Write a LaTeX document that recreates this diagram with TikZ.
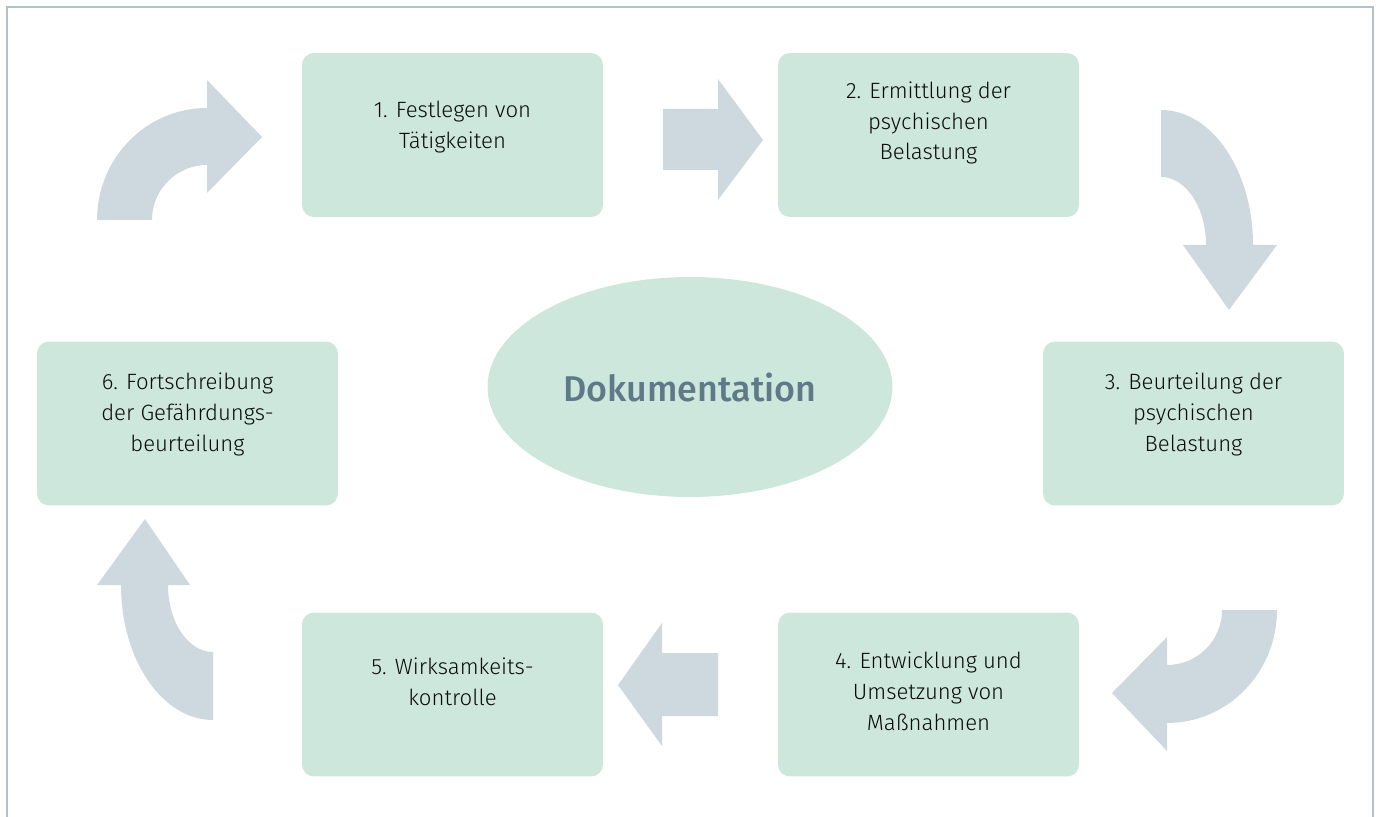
\documentclass[tikz,border=0pt]{standalone}
\usepackage{fontspec}
\setmainfont{Fira Sans}[UprightFont={* Light},BoldFont={* Medium}]
\usepackage{tikz}
\usetikzlibrary{shapes.geometric,calc}
\definecolor{mint}{HTML}{CDE7DD}
\definecolor{arrowgray}{HTML}{CED8DF}
\definecolor{framegray}{HTML}{B3C1C9}
\definecolor{doctext}{HTML}{5E7A88}
\definecolor{steptext}{HTML}{0A0A0A}

\begin{document}
\begin{tikzpicture}[
  x={(0.02cm,0cm)},
  y={(0cm,-0.02cm)},
  every node/.style={font=\fontsize{12.6pt}{17.6pt}\selectfont},
  stepbox/.style={rectangle,rounded corners=0.24cm,fill=mint,
    minimum width=6.02cm,minimum height=3.28cm,inner sep=0pt},
  steplabel/.style={align=center,text=steptext,inner sep=0pt},
  blockarrow/.style={fill=arrowgray,draw=none}]

\useasboundingbox (0,0) rectangle (1379,817);

% --- Frame (open at the bottom) ---
\draw[framegray,line width=1.1pt] (7,817) -- (7,7) -- (1373,7) -- (1373,817);

% --- Six steps ---
\node[stepbox] (s1) at (452.5,135)    {};
\node[stepbox] (s2) at (928.5,135)    {};
\node[stepbox] (s3) at (1193.5,423.5) {};
\node[stepbox] (s4) at (928.5,694.5)  {};
\node[stepbox] (s5) at (452.5,694.5)  {};
\node[stepbox] (s6) at (187.5,423.5)  {};

\node[steplabel] (t1) at ($(s1)+(0,-8)$)  {1. Festlegen von\\T\"atigkeiten};
\node[steplabel] (t2) at ($(s2)+(0,-12)$) {2. Ermittlung der\\psychischen\\Belastung};
\node[steplabel] (t3) at ($(s3)+(0,-9)$)  {3. Beurteilung der\\psychischen\\Belastung};
\node[steplabel] (t4) at ($(s4)+(0,-3)$)  {4. Entwicklung und\\Umsetzung von\\Ma\ss nahmen};
\node[steplabel] (t5) at ($(s5)+(0,-13)$) {5. Wirksamkeits-\\kontrolle};
\node[steplabel] (t6) at ($(s6)+(0,-9)$)  {6. Fortschreibung\\der Gef\"ahrdungs-\\beurteilung};

% --- Centre ---
\node[ellipse,fill=mint,minimum width=8.1cm,minimum height=4.4cm,
      font=\fontsize{20.4pt}{24pt}\selectfont\bfseries,text=doctext]
  (doc) at (690,387) {Dokumentation};

% --- Straight arrows ---
\fill[blockarrow] (663,109) -- (718,109) -- (718,79) -- (763,140)
  -- (718,200) -- (718,170) -- (663,170) -- cycle;
\fill[blockarrow] (718,653) -- (662,653) -- (662,623) -- (618,685)
  -- (662,746) -- (662,716) -- (718,716) -- cycle;

% --- Curved arrows ---
\fill[blockarrow] (97,220)
  arc[start angle=180,end angle=270,x radius=110,y radius=112]
  -- (207,80) -- (262,137) -- (207,193) -- (207,165)
  arc[start angle=270,end angle=180,x radius=55,y radius=55] -- cycle;
\fill[blockarrow] (1161,110)
  arc[start angle=270,end angle=360,x radius=92,y radius=135]
  -- (1277,245) -- (1229,310) -- (1183,245) -- (1206,245)
  arc[start angle=360,end angle=270,x radius=45,y radius=68] -- cycle;
\fill[blockarrow] (1277,610)
  arc[start angle=0,end angle=90,x radius=110,y radius=113]
  -- (1167,751) -- (1112,693) -- (1167,637) -- (1167,665)
  arc[start angle=90,end angle=0,x radius=55,y radius=55] -- cycle;
\fill[blockarrow] (213,720)
  arc[start angle=90,end angle=180,x radius=92,y radius=135]
  -- (97,585) -- (145,519) -- (190,585) -- (168,585)
  arc[start angle=180,end angle=90,x radius=45,y radius=67] -- cycle;

\end{tikzpicture}
\end{document}
